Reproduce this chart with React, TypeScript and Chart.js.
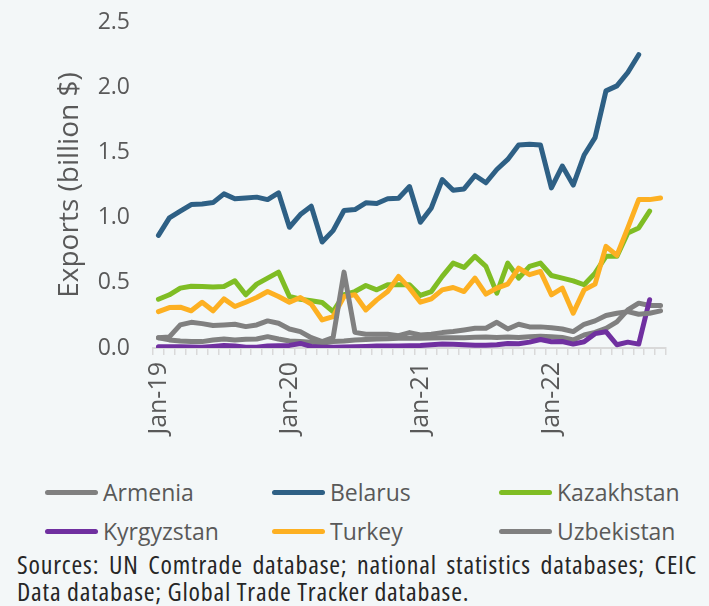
import React, { useEffect, useRef } from "react";
import { Chart, registerables } from "chart.js";

Chart.register(...registerables);

const categories = [
  "Jan-19","Feb-19","Mar-19","Apr-19","May-19","Jun-19","Jul-19","Aug-19","Sep-19","Oct-19","Nov-19","Dec-19",
  "Jan-20","Feb-20","Mar-20","Apr-20","May-20","Jun-20","Jul-20","Aug-20","Sep-20","Oct-20","Nov-20","Dec-20",
  "Jan-21","Feb-21","Mar-21","Apr-21","May-21","Jun-21","Jul-21","Aug-21","Sep-21","Oct-21","Nov-21","Dec-21",
  "Jan-22","Feb-22","Mar-22","Apr-22","May-22","Jun-22","Jul-22","Aug-22","Sep-22","Oct-22","Nov-22",
];

const armenia = [
  0.079, 0.062, 0.054, 0.049, 0.049, 0.062, 0.069, 0.062, 0.067, 0.069, 0.087, 0.069,
  0.054, 0.049, 0.044, 0.036, 0.049, 0.054, 0.062, 0.065, 0.069, 0.07, 0.074, 0.074,
  0.074, 0.076, 0.079, 0.079, 0.079, 0.082, 0.085, 0.08, 0.085, 0.08, 0.087, 0.09,
  0.087, 0.08, 0.062, 0.1, 0.12, 0.151, 0.2, 0.292, 0.344, 0.326, 0.326,
];

const belarus = [
  0.864, 0.998, 1.049, 1.1, 1.105, 1.115, 1.182, 1.144, 1.15, 1.157, 1.138, 1.19,
  0.926, 1.023, 1.087, 0.813, 0.9, 1.054, 1.062, 1.113, 1.108, 1.144, 1.149, 1.238,
  0.964, 1.074, 1.292, 1.21, 1.22, 1.323, 1.267, 1.369, 1.446, 1.556, 1.562, 1.556,
  1.228, 1.395, 1.249, 1.48, 1.613, 1.972, 2.01, 2.113, 2.249,
];

const kazakhstan = [
  0.374, 0.408, 0.459, 0.474, 0.472, 0.467, 0.472, 0.515, 0.408, 0.49, 0.536, 0.582,
  0.395, 0.374, 0.362, 0.349, 0.279, 0.41, 0.433, 0.479, 0.446, 0.485, 0.485, 0.485,
  0.403, 0.433, 0.549, 0.651, 0.618, 0.703, 0.626, 0.421, 0.651, 0.536, 0.626, 0.651,
  0.556, 0.536, 0.515, 0.485, 0.574, 0.703, 0.703, 0.882, 0.921, 1.049,
];

const kyrgyzstan = [
  0.01, 0.01, 0.01, 0.008, 0.005, 0.012, 0.02, 0.015, 0.005, 0.005, 0.015, 0.018,
  0.02, 0.035, 0.012, 0.005, 0.005, 0.008, 0.01, 0.012, 0.015, 0.015, 0.015, 0.018,
  0.02, 0.025, 0.03, 0.028, 0.025, 0.022, 0.022, 0.025, 0.035, 0.033, 0.045, 0.065,
  0.048, 0.05, 0.03, 0.048, 0.11, 0.125, 0.025, 0.045, 0.03, 0.37,
];

const turkey = [
  0.279, 0.31, 0.313, 0.285, 0.351, 0.285, 0.377, 0.318, 0.351, 0.387, 0.433, 0.395,
  0.351, 0.387, 0.336, 0.215, 0.241, 0.395, 0.408, 0.292, 0.369, 0.433, 0.549, 0.459,
  0.351, 0.377, 0.446, 0.464, 0.433, 0.536, 0.413, 0.459, 0.49, 0.613, 0.562, 0.587,
  0.408, 0.459, 0.267, 0.446, 0.49, 0.779, 0.71, 0.921, 1.138, 1.138, 1.151,
];

const uzbekistan = [
  0.079, 0.085, 0.177, 0.197, 0.187, 0.172, 0.177, 0.182, 0.164, 0.177, 0.208, 0.19,
  0.146, 0.126, 0.079, 0.049, 0.079, 0.582, 0.12, 0.105, 0.105, 0.105, 0.095, 0.118,
  0.1, 0.105, 0.118, 0.126, 0.138, 0.151, 0.151, 0.197, 0.146, 0.182, 0.162, 0.162,
  0.156, 0.146, 0.126, 0.182, 0.208, 0.249, 0.267, 0.279, 0.259, 0.267, 0.285,
];

const seriesNames = ["Armenia", "Belarus", "Kazakhstan", "Kyrgyzstan", "Turkey", "Uzbekistan"];
const seriesColors = ["#808080", "#2e6085", "#7fbd24", "#7030a0", "#fdb022", "#808080"];
const seriesData = [armenia, belarus, kazakhstan, kyrgyzstan, turkey, uzbekistan];
const drawOrder = [5, 4, 3, 2, 1, 0];

const yTickValues = [0, 0.5, 1, 1.5, 2, 2.5];
const yTitle = "Exports (billion $)";
const sourceLine1 = "Sources: UN Comtrade database; national statistics databases; CEIC";
const sourceLine2 = "Data database; Global Trade Tracker database.";

const FONT = "'Open Sans', 'Noto Sans', sans-serif";
const TEXT = "#595959";
const BG = "#f3f7f8";

export default function App() {
  const canvasRef = useRef<HTMLCanvasElement | null>(null);

  useEffect(() => {
    if (!canvasRef.current) return;
    const chart = new Chart(canvasRef.current, {
      type: "line",
      data: {
        labels: categories,
        datasets: seriesNames.map((name, i) => ({
          label: name,
          data: seriesData[i],
          borderColor: seriesColors[i],
          backgroundColor: seriesColors[i],
          borderWidth: 5,
          pointRadius: 0,
          pointHoverRadius: 0,
          tension: 0,
          fill: false,
          borderCapStyle: "round" as const,
          borderJoinStyle: "round" as const,
          order: drawOrder[i],
        })),
      },
      options: {
        animation: false,
        responsive: false,
        maintainAspectRatio: false,
        events: [],
        layout: { padding: { left: 52, right: 43, top: 22, bottom: 0 } },
        plugins: {
          legend: { display: false },
          tooltip: { enabled: false },
        },
        scales: {
          x: {
            type: "category",
            offset: true,
            grid: {
              display: true,
              drawOnChartArea: false,
              drawTicks: true,
              tickLength: 7,
              offset: true,
              color: "#d9d9d9",
              lineWidth: 1.5,
            },
            border: { display: true, color: "#d9d9d9", width: 2 },
            ticks: {
              autoSkip: false,
              maxRotation: 90,
              minRotation: 90,
              padding: 7,
              color: TEXT,
              font: { family: FONT, size: 25 },
              callback: (_v: any, i: number) => (i % 12 === 0 ? categories[i] : ""),
            },
            afterFit: (scale: any) => {
              scale.height = 112;
              scale.paddingLeft = 0;
              scale.paddingRight = 0;
            },
          },
          y: {
            min: 0,
            max: 2.5,
            afterBuildTicks: (scale: any) => {
              scale.ticks = yTickValues.map((v) => ({ value: v }));
            },
            grid: { display: false, drawTicks: false },
            border: { display: false },
            ticks: {
              padding: 23,
              color: TEXT,
              font: { family: FONT, size: 23 },
              callback: (v: any) => Number(v).toFixed(1),
            },
            title: {
              display: true,
              text: yTitle,
              color: TEXT,
              font: { family: FONT, size: 28 },
              padding: { top: 1, bottom: 1 },
            },
            afterFit: (scale: any) => {
              scale.width = 101;
              scale.paddingTop = 0;
              scale.paddingBottom = 0;
            },
          },
        },
      },
    });
    return () => chart.destroy();
  }, []);

  const legendCols = [45, 272, 499];
  const legendRows = [492, 531];

  return (
    <div
      style={{
        position: "absolute",
        left: 0,
        top: 0,
        width: 709,
        height: 606,
        background: BG,
        overflow: "hidden",
        fontFamily: FONT,
      }}
    >
      <canvas
        ref={canvasRef}
        width={709}
        height={460}
        style={{ position: "absolute", left: 0, top: 0, width: 709, height: 460 }}
      />
      {seriesNames.map((name, i) => {
        const col = i % 3;
        const row = Math.floor(i / 3);
        return (
          <div
            key={name}
            style={{
              position: "absolute",
              left: legendCols[col],
              top: legendRows[row] - 15,
              height: 30,
              display: "flex",
              alignItems: "center",
              whiteSpace: "nowrap",
            }}
          >
            <div
              style={{
                width: 53,
                height: 5,
                borderRadius: 3,
                background: seriesColors[i],
                marginRight: 5,
              }}
            />
            <span style={{ fontSize: 23, color: TEXT, lineHeight: "30px" }}>{name}</span>
          </div>
        );
      })}
      <div
        style={{
          position: "absolute",
          left: 17,
          top: 551,
          width: 680,
          fontSize: 26,
          color: "#262626",
          lineHeight: "27px",
          letterSpacing: "0.8px",
          fontFamily: "'Open Sans', 'Noto Sans', sans-serif",
          fontStretch: "75%",
        }}
      >
        <div style={{ textAlign: "justify", textAlignLast: "justify", whiteSpace: "nowrap" as const }}>
          {sourceLine1}
        </div>
        <div style={{ textAlign: "left" }}>{sourceLine2}</div>
      </div>
    </div>
  );
}
